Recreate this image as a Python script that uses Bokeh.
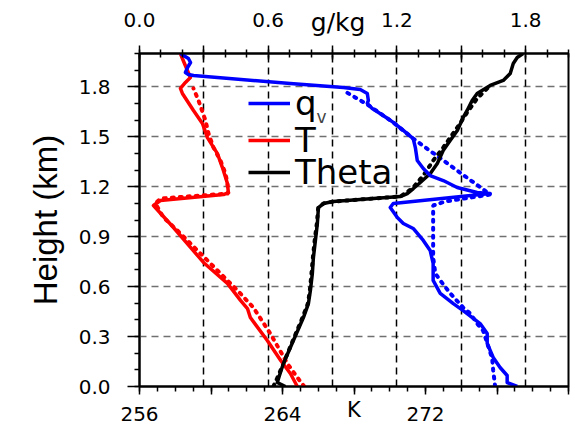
from bokeh.plotting import figure
from bokeh.models import (Range1d, LinearAxis, SingleIntervalTicker, CustomJSTickFormatter,
                          Grid, Legend, LegendItem, Label)
from bokeh.embed import file_html
from bokeh.resources import INLINE

FONT = "DejaVu Sans"
FONT_YLABEL = "Liberation Sans"

# ---------------- data ----------------
# Temperature T (K), solid (observed) and dotted (model)
h_T = [0.000, 0.078, 0.156, 0.276, 0.414, 0.468, 0.517, 0.619, 0.745, 0.955, 1.087, 1.117,
       1.153, 1.165, 1.219, 1.315, 1.399, 1.495, 1.580, 1.658, 1.760, 1.790, 1.826, 1.856,
       1.898, 1.970, 2.000]
T = [264.83, 264.44, 263.90, 263.15, 262.20, 262.04, 261.65, 260.92, 259.58, 257.90, 256.78,
     257.17, 260.70, 260.97, 260.92, 260.64, 260.36, 259.80, 259.52, 259.02, 258.40, 258.29,
     258.57, 258.85, 258.68, 258.40, 258.29]
h_Td = [0.000, 0.054, 0.138, 0.318, 0.474, 0.577, 0.739, 0.937, 1.015, 1.099, 1.129, 1.159,
        1.219, 1.279, 1.357, 1.435, 1.520, 1.598, 1.718, 1.790]
Td = [265.22, 264.83, 264.27, 263.32, 262.37, 261.48, 259.97, 258.12, 257.34, 256.89, 257.17,
      260.97, 260.92, 260.81, 260.53, 260.14, 259.86, 259.69, 259.30, 259.02]

# Potential temperature Theta (K)
h_th = [0.000, 0.024, 0.066, 0.138, 0.276, 0.414, 0.498, 0.577, 0.679, 0.775, 0.877, 0.979,
        1.075, 1.099, 1.111, 1.141, 1.159, 1.189, 1.225, 1.279, 1.339, 1.417, 1.477, 1.538,
        1.616, 1.658, 1.718, 1.760, 1.808, 1.838, 1.880, 1.940, 1.976, 2.000]
th = [264.16, 263.71, 263.83, 264.05, 264.61, 265.17, 265.45, 265.56, 265.67, 265.73, 265.84,
      265.95, 266.01, 266.29, 266.84, 270.59, 270.98, 271.32, 271.71, 272.27, 272.66, 272.99,
      273.38, 273.78, 274.11, 274.33, 274.61, 274.89, 275.62, 276.35, 276.74, 276.91, 277.13,
      277.46]
h_thd = [0.000, 0.066, 0.138, 0.276, 0.414, 0.498, 0.577, 0.679, 0.775, 0.877, 0.979, 1.075,
         1.099, 1.111, 1.141, 1.189, 1.267, 1.357, 1.435, 1.556, 1.646, 1.730, 1.796]
thd = [263.49, 263.77, 264.05, 264.58, 265.12, 265.42, 265.53, 265.62, 265.70, 265.80, 265.92,
       266.00, 266.29, 266.84, 270.59, 271.26, 271.88, 272.43, 272.99, 273.78, 274.33, 274.89,
       275.51]

# Water vapour mixing ratio q_v (g/kg)
h_q = [0.000, 0.024, 0.066, 0.114, 0.174, 0.258, 0.318, 0.378, 0.456, 0.498, 0.559, 0.637,
       0.739, 0.817, 0.877, 0.949, 0.979, 1.015, 1.075, 1.099, 1.159, 1.165, 1.195, 1.237,
       1.267, 1.309, 1.357, 1.435, 1.489, 1.538, 1.586, 1.628, 1.670, 1.700, 1.718, 1.760,
       1.784, 1.796, 1.820, 1.868, 1.874, 1.886, 1.916, 1.946, 1.970, 2.000]
qv = [1.761, 1.714, 1.714, 1.681, 1.649, 1.621, 1.621, 1.588, 1.509, 1.463, 1.402, 1.369,
      1.369, 1.355, 1.323, 1.276, 1.230, 1.202, 1.169, 1.183, 1.635, 1.574, 1.481, 1.416,
      1.355, 1.323, 1.295, 1.286, 1.276, 1.230, 1.183, 1.136, 1.085, 1.062, 1.067, 1.062,
      1.029, 0.950, 0.703, 0.252, 0.228, 0.214, 0.224, 0.238, 0.228, 0.191]
h_qd = [0.000, 0.096, 0.170, 0.260, 0.336, 0.378, 0.438, 0.474, 0.559, 0.637, 0.679, 0.775,
        0.979, 1.087, 1.111, 1.153, 1.489, 1.586, 1.694, 1.778]
qvd = [1.658, 1.649, 1.644, 1.621, 1.602, 1.574, 1.542, 1.509, 1.449, 1.402, 1.379, 1.369,
       1.369, 1.369, 1.425, 1.635, 1.276, 1.183, 1.062, 0.950]

# axis settings
K_range = (256, 280)
q_range = (0.0, 2.0)
h_range = (0.0, 2.0)
legend_labels = ["q", "T", "Theta"]

# ---------------- figure ----------------
p = figure(width=575, height=428, output_backend="svg", toolbar_location=None,
           x_range=Range1d(*K_range), y_range=Range1d(*h_range),
           min_border_left=139, min_border_right=7, min_border_top=53, min_border_bottom=42,
           background_fill_color="white", border_fill_color="white")
p.extra_x_ranges = {"qv": Range1d(*q_range)}
p.outline_line_color = "black"
p.outline_line_width = 2

tick_font = "20px"

# bottom axis (K)
xa = p.xaxis[0]
xa.ticker = SingleIntervalTicker(interval=4, num_minor_ticks=4)
xa.formatter = CustomJSTickFormatter(
    code="const t = Math.round(tick); return ((t - 256) % 8 === 0 && t < 279) ? t.toString() : '';")
xa.major_tick_out = 8
xa.major_tick_in = 0
xa.minor_tick_out = 5
xa.minor_tick_in = 0
xa.major_label_standoff = 12
xa.axis_label = "K"
xa.axis_label_text_font_size = "21px"
xa.axis_label_standoff = -26

# left axis (height)
ya = p.yaxis[0]
ya.ticker = SingleIntervalTicker(interval=0.3, num_minor_ticks=3)
ya.formatter = CustomJSTickFormatter(code="return tick.toFixed(1);")
ya.major_tick_out = 12
ya.major_tick_in = 0
ya.minor_tick_out = 5
ya.minor_tick_in = 0
ya.major_label_standoff = 17
ya.axis_label = "Height (km)"
ya.axis_label_standoff = 12

# top axis (g/kg)
ta = LinearAxis(x_range_name="qv")
ta.ticker = SingleIntervalTicker(interval=0.3, num_minor_ticks=3)
ta.formatter = CustomJSTickFormatter(
    code="const k = Math.round(tick*10); return (k % 6 === 0) ? (k/10).toFixed(1) : '';")
ta.major_tick_out = 8
ta.major_tick_in = 6
ta.minor_tick_out = 4
ta.minor_tick_in = 4
ta.major_label_standoff = 19
ta.axis_label = "g/kg\u00a0\u00a0\u00a0\u00a0"
ta.axis_label_text_font_size = "25px"
ta.axis_label_standoff = -27
p.add_layout(ta, "above")

for ax in (xa, ya, ta):
    ax.axis_line_width = 2
    ax.major_tick_line_width = 1.5
    ax.minor_tick_line_width = 1.5
    ax.major_label_text_font = FONT
    ax.major_label_text_font_size = tick_font
    ax.major_label_text_color = "black"
    ax.axis_label_text_font = FONT
    ax.axis_label_text_color = "black"
    ax.axis_label_text_font_style = "normal"

ya.axis_label_text_font = FONT_YLABEL
ya.axis_label_text_font_size = "33px"

# grids
p.xgrid.visible = False
p.ygrid.grid_line_color = "#707070"
p.ygrid.grid_line_dash = "7 5"
p.ygrid.grid_line_width = 1.5
vgrid = Grid(dimension=0, ticker=SingleIntervalTicker(interval=0.3), x_range_name="qv",
             grid_line_color="black", grid_line_dash="7 5", grid_line_width=1.5)
p.add_layout(vgrid)

# curves
SW = 3.5
DW = 4
DASH = "2 6"
r_qd = p.line(qvd, h_qd, x_range_name="qv", line_color="blue", line_width=DW, line_dash=DASH, line_cap="round")
r_Td = p.line(Td, h_Td, line_color="red", line_width=DW, line_dash=DASH, line_cap="round")
r_thd = p.line(thd, h_thd, line_color="black", line_width=DW, line_dash=DASH, line_cap="round")
r_T = p.line(T, h_T, line_color="red", line_width=SW, line_join="round")
r_th = p.line(th, h_th, line_color="black", line_width=SW, line_join="round")
r_q = p.line(qv, h_q, x_range_name="qv", line_color="blue", line_width=SW, line_join="round")

# legend: one single-item legend per row, for exact row placement
ROW_H = 40
leg_rows = [(legend_labels[0], r_q, 103), (legend_labels[1], r_T, 140), (legend_labels[2], r_th, 172)]
for lab, rend, yc in leg_rows:
    lg = Legend(items=[LegendItem(label=lab, renderers=[rend])],
                location=(109, 386 - yc - ROW_H // 2), padding=0, margin=0, spacing=0,
                glyph_width=42, glyph_height=ROW_H, label_height=ROW_H, label_standoff=5,
                label_text_font=FONT, label_text_font_size="34px", label_text_color="black",
                border_line_color=None, background_fill_alpha=0)
    p.add_layout(lg)

# subscript v of q_v
p.add_layout(Label(x=177, y=270, x_units="screen", y_units="screen", text="v",
                   text_font=FONT, text_font_size="17px", text_baseline="alphabetic"))

open("out.html", "w").write(file_html(p, INLINE))
